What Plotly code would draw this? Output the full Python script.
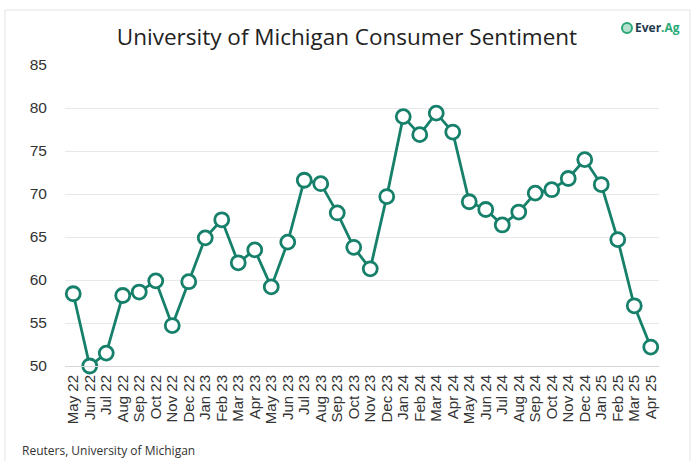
import plotly.graph_objects as go

months = ["May 22","Jun 22","Jul 22","Aug 22","Sep 22","Oct 22","Nov 22","Dec 22",
          "Jan 23","Feb 23","Mar 23","Apr 23","May 23","Jun 23","Jul 23","Aug 23",
          "Sep 23","Oct 23","Nov 23","Dec 23","Jan 24","Feb 24","Mar 24","Apr 24",
          "May 24","Jun 24","Jul 24","Aug 24","Sep 24","Oct 24","Nov 24","Dec 24",
          "Jan 25","Feb 25","Mar 25","Apr 25"]
sentiment = [58.4, 50.0, 51.5, 58.2, 58.6, 59.9, 54.7, 59.8,
             64.9, 67.0, 62.0, 63.5, 59.2, 64.4, 71.6, 71.2,
             67.8, 63.8, 61.3, 69.7, 79.0, 76.9, 79.4, 77.2,
             69.1, 68.2, 66.4, 67.9, 70.1, 70.5, 71.8, 74.0,
             71.1, 64.7, 57.0, 52.2]
y_ticks = [50, 55, 60, 65, 70, 75, 80, 85]

GREEN = "#16806a"
W, H = 694, 461
L, R, T, B = 65, 35, 65, 95
PW, PH = W - L - R, H - T - B


def px_x(px):
    return (px - L) / PW


def px_y(py):
    return (H - B - py) / PH


fig = go.Figure()
fig.add_trace(go.Scatter(
    x=months, y=sentiment, mode="lines+markers",
    line=dict(color=GREEN, width=2.8),
    marker=dict(size=14, color="white", line=dict(color=GREEN, width=2.8)),
    cliponaxis=False, hoverinfo="x+y", showlegend=False,
))

fig.update_layout(
    width=W, height=H,
    margin=dict(l=L, r=R, t=T, b=B, autoexpand=False),
    paper_bgcolor="white", plot_bgcolor="white",
    title=dict(text="University of Michigan Consumer Sentiment",
               x=0.5, xanchor="center", y=1 - 37 / H, yanchor="middle",
               font=dict(family="Open Sans", size=22.5, color="#222222")),
    xaxis=dict(type="category", tickangle=-90, showgrid=False, automargin=False,
               range=[-0.5, len(months) - 0.5],
               tickmode="array", tickvals=months, ticktext=months,
               showline=True, linecolor="#d4d4d4", linewidth=1,
               ticks="", ticklabelstandoff=2,
               tickfont=dict(family="Liberation Sans, Arial", size=15, color="#333333")),
    yaxis=dict(range=[50, 85], tickvals=y_ticks, showgrid=True, automargin=False,
               gridcolor="#e8e8e8", gridwidth=1, zeroline=False, showline=False,
               ticks="", ticklabelstandoff=17,
               tickfont=dict(family="Liberation Sans, Arial", size=15.5, color="#333333")),
    font=dict(family="Open Sans"),
)

# outer border
fig.add_shape(type="rect", xref="paper", yref="paper",
              x0=px_x(5), x1=px_x(690), y0=px_y(475), y1=px_y(10),
              line=dict(color="#e3e3e3", width=1), fillcolor="rgba(0,0,0,0)", layer="below")

# logo
fig.add_shape(type="circle", xref="paper", yref="paper",
              x0=px_x(622), x1=px_x(632), y0=px_y(33), y1=px_y(23),
              line=dict(color="#2aa876", width=2), fillcolor="rgba(42,168,118,0.35)")
fig.add_annotation(xref="paper", yref="paper", x=px_x(633), y=px_y(28),
                   xanchor="left", yanchor="middle", showarrow=False,
                   text="<b><span style='color:#1f3a4d'>Ever</span><span style='color:#2aa876'>.Ag</span></b>",
                   font=dict(family="Open Sans", size=12))

# source
fig.add_annotation(xref="paper", yref="paper", x=px_x(20), y=px_y(450),
                   xanchor="left", yanchor="middle", showarrow=False,
                   text="Reuters, University of Michigan",
                   font=dict(family="Open Sans", size=12, color="#333333"))

fig.write_html("out.html", config={"displayModeBar": False},
               post_script="document.body.style.margin='0';")
